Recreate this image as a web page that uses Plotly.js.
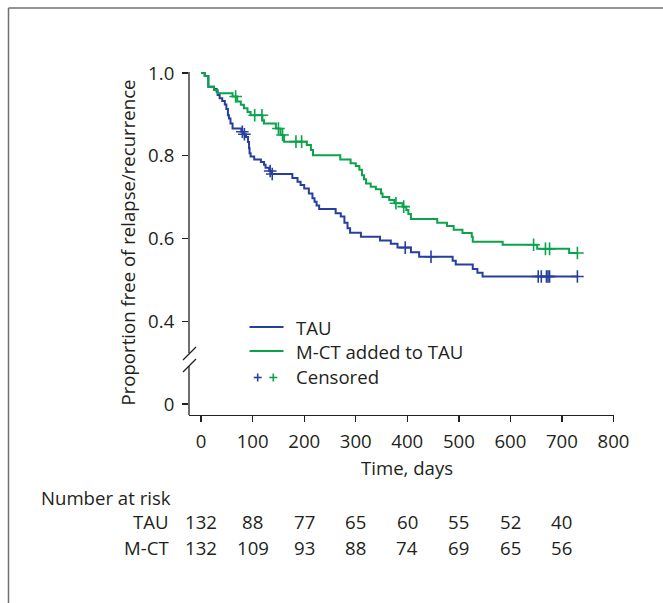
<!DOCTYPE html>
<html><head><meta charset="utf-8">
<script src="https://cdn.plot.ly/plotly-3.0.1.min.js"></script>
<style>html,body{margin:0;padding:0;background:#fff}#chart{width:663px;height:603px}</style>
</head><body><div id="chart"></div>
<script>
// Kaplan-Meier step data (days, proportion free of relapse/recurrence)
const tauTimes = [0,7,14,25,30,32,36,41,46,49,52,54,57,61,78,83,87,91,93,94,96,103,116,122,125,132,137,177,187,193,200,209,216,220,224,229,261,271,278,284,289,310,347,368,381,407,423,488,494,527,536,546];
const tauSurv = [1.0,0.993,0.967,0.961,0.955,0.947,0.939,0.932,0.924,0.913,0.898,0.890,0.878,0.866,0.858,0.852,0.845,0.833,0.818,0.806,0.798,0.791,0.785,0.778,0.771,0.763,0.756,0.746,0.737,0.729,0.721,0.709,0.697,0.689,0.680,0.671,0.661,0.653,0.638,0.625,0.614,0.604,0.595,0.587,0.578,0.567,0.556,0.546,0.537,0.526,0.517,0.508];
const tauCensor = [80,84,134,138,396,446,654,660,670,673,676,730];

const mctTimes = [0,7,14,25,32,61,70,77,83,90,96,119,122,145,154,161,205,213,217,270,290,300,307,312,316,320,329,339,349,352,365,375,391,398,402,407,458,477,490,507,525,527,585,652,714];
const mctSurv = [1.0,0.993,0.967,0.959,0.951,0.943,0.931,0.923,0.915,0.906,0.898,0.886,0.878,0.866,0.850,0.834,0.826,0.814,0.801,0.791,0.782,0.775,0.766,0.753,0.743,0.733,0.725,0.719,0.709,0.700,0.693,0.685,0.677,0.669,0.659,0.647,0.638,0.630,0.621,0.613,0.604,0.592,0.585,0.575,0.565];
const mctCensor = [67,104,118,150,158,184,195,378,393,645,668,676,730];

const endTime = 730;

// Number at risk table
const riskTimes = [0,100,200,300,400,500,600,700];
const riskTAU = [132,88,77,65,60,55,52,40];
const riskMCT = [132,109,93,88,74,69,65,56];
const riskLabels = ['TAU','M-CT'];

// Axis ticks
const xTicks = [0,100,200,300,400,500,600,700,800];
const yTickVals = [0.2,0.4,0.6,0.8,1.0];
const yTickText = ['0','0.4','0.6','0.8','1.0'];

const BLUE = '#253f9e';
const GREEN = '#0ba24c';
const FONT = 'Open Sans, Noto Sans, sans-serif';
const TXT = '#231f20';

function stepAt(times, surv, t){
  let v = surv[0];
  for (let i=0;i<times.length;i++){ if (times[i] <= t) v = surv[i]; }
  return v;
}

function curve(times, surv, color, name){
  return {
    x: times.concat([endTime]), y: surv.concat([surv[surv.length-1]]),
    type:'scatter', mode:'lines', line:{shape:'hv', color:color, width:2},
    name:name, showlegend:false, hoverinfo:'skip'
  };
}
function censor(times, surv, cens, color){
  return {
    x: cens, y: cens.map(t=>stepAt(times, surv, t)),
    type:'scatter', mode:'markers',
    marker:{symbol:'cross-thin-open', size:9, color:color, line:{color:color, width:1.6}},
    showlegend:false, hoverinfo:'skip'
  };
}

const traces = [
  curve(tauTimes, tauSurv, BLUE, 'TAU'),
  censor(tauTimes, tauSurv, tauCensor, BLUE),
  curve(mctTimes, mctSurv, GREEN, 'M-CT added to TAU'),
  censor(mctTimes, mctSurv, mctCensor, GREEN)
];

// layout geometry helpers (pixel -> paper)
const L=189, R=49, T=71, B=188, W=663, H=603;
const PW = W-L-R, PH = H-T-B;
const px = p => (p-L)/PW;
const py = p => (H-B-p)/PH;

const shapes = [];
const AX = {color:'#231f20', width:1.3};
// y axis with break
shapes.push({type:'line', xref:'paper', yref:'paper', x0:0, x1:0, y0:py(353), y1:py(72), line:AX});
shapes.push({type:'line', xref:'paper', yref:'paper', x0:0, x1:0, y0:0, y1:py(366), line:AX});
shapes.push({type:'line', xref:'paper', yref:'paper', x0:px(183), x1:px(196), y0:py(360), y1:py(347), line:AX});
shapes.push({type:'line', xref:'paper', yref:'paper', x0:px(183), x1:px(196), y0:py(372), y1:py(359), line:AX});
// outer frame (top & left)
const FR = {color:'#707070', width:1.5};
shapes.push({type:'line', xref:'paper', yref:'paper', x0:px(8.5), x1:px(670), y0:py(8), y1:py(8), line:FR});
shapes.push({type:'line', xref:'paper', yref:'paper', x0:px(8.5), x1:px(8.5), y0:py(8), y1:py(610), line:FR});
// legend lines
shapes.push({type:'line', xref:'paper', yref:'paper', x0:px(249.5), x1:px(283.5), y0:py(327), y1:py(327), line:{color:BLUE,width:2}});
shapes.push({type:'line', xref:'paper', yref:'paper', x0:px(249.5), x1:px(283.5), y0:py(351), y1:py(351), line:{color:GREEN,width:2}});
// legend censor crosses
[[257.7,BLUE],[273.3,GREEN]].forEach(([cx,c])=>{
  shapes.push({type:'line', xref:'paper', yref:'paper', x0:px(cx-4), x1:px(cx+4), y0:py(377.5), y1:py(377.5), line:{color:c,width:1.6}});
  shapes.push({type:'line', xref:'paper', yref:'paper', x0:px(cx), x1:px(cx), y0:py(373.5), y1:py(381.5), line:{color:c,width:1.6}});
});

const annotations = [];
const f = {family:FONT, size:18.6, color:TXT};
annotations.push({xref:'paper', yref:'paper', x:px(294), y:py(327), xanchor:'left', yanchor:'middle', text:'TAU', showarrow:false, font:f});
annotations.push({xref:'paper', yref:'paper', x:px(294), y:py(351), xanchor:'left', yanchor:'middle', text:'M-CT added to TAU', showarrow:false, font:f});
annotations.push({xref:'paper', yref:'paper', x:px(294), y:py(376), xanchor:'left', yanchor:'middle', text:'Censored', showarrow:false, font:f});
// axis titles
annotations.push({xref:'paper', yref:'paper', x:px(126.5), y:0.5, xanchor:'center', yanchor:'middle', textangle:-90, text:'Proportion free of relapse/recurrence', showarrow:false, font:f});
annotations.push({xref:'x', yref:'paper', x:400, y:py(467), xanchor:'center', yanchor:'middle', text:'Time, days', showarrow:false, font:f});
// risk table
annotations.push({xref:'paper', yref:'paper', x:px(39), y:py(497), xanchor:'left', yanchor:'middle', text:'Number at risk', showarrow:false, font:f});
[[riskTAU,521],[riskMCT,547]].forEach(([vals,yy],k)=>{
  annotations.push({xref:'paper', yref:'paper', x:px(171), y:py(yy), xanchor:'right', yanchor:'middle', text:riskLabels[k], showarrow:false, font:f});
  vals.forEach((v,i)=>{
    annotations.push({xref:'x', yref:'paper', x:riskTimes[i], y:py(yy), xanchor:'center', yanchor:'middle', text:String(v), showarrow:false, font:f});
  });
});

const layout = {
  width:W, height:H,
  margin:{l:L, r:R, t:T, b:B, pad:0},
  paper_bgcolor:'#fff', plot_bgcolor:'#fff',
  font:f,
  showlegend:false,
  xaxis:{range:[-23.5,801], tickvals:xTicks, ticktext:xTicks.map(String), ticks:'outside', ticklen:6, tickwidth:1.3, tickcolor:'#231f20',
    ticklabelstandoff:3,
    showline:true, linecolor:'#231f20', linewidth:1.3, showgrid:false, zeroline:false, tickfont:f, fixedrange:true},
  yaxis:{range:[0.1734,1.0048], tickvals:yTickVals, ticktext:yTickText, ticks:'outside', ticklen:6, tickwidth:1.3, tickcolor:'#231f20',
    ticklabelstandoff:4,
    showline:false, showgrid:false, zeroline:false, tickfont:f, fixedrange:true},
  shapes:shapes, annotations:annotations
};

Plotly.newPlot('chart', traces, layout, {displayModeBar:false, staticPlot:true});
</script></body></html>
